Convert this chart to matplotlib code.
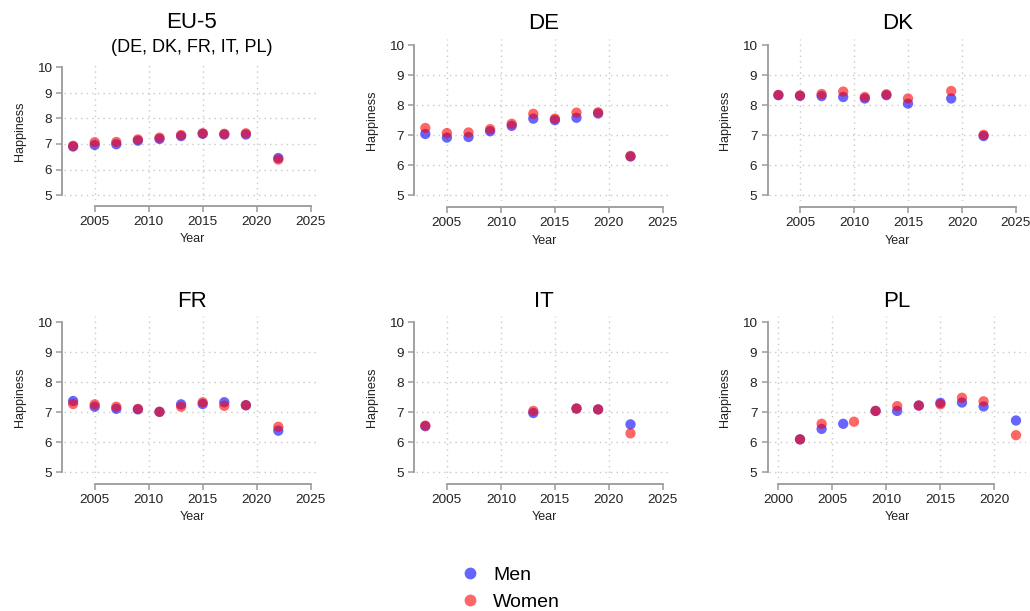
import matplotlib as mpl
mpl.use('Agg')
import matplotlib.pyplot as plt
from matplotlib.lines import Line2D

plt.rcParams['font.family'] = ['Liberation Sans', 'DejaVu Sans']

# mean happiness by survey year, men / women
eu5_years = [2003, 2005, 2007, 2009, 2011, 2013, 2015, 2017, 2019, 2022]
eu5_men = [6.90, 6.96, 6.99, 7.13, 7.20, 7.31, 7.40, 7.37, 7.37, 6.45]
eu5_women = [6.93, 7.07, 7.08, 7.18, 7.25, 7.35, 7.42, 7.40, 7.42, 6.39]

de_years = [2003, 2005, 2007, 2009, 2011, 2013, 2015, 2017, 2019, 2022]
de_men = [7.04, 6.92, 6.94, 7.13, 7.31, 7.55, 7.50, 7.58, 7.72, 6.29]
de_women = [7.24, 7.07, 7.09, 7.20, 7.38, 7.71, 7.55, 7.75, 7.76, 6.31]

dk_years = [2003, 2005, 2007, 2009, 2011, 2013, 2015, 2019, 2022]
dk_men = [8.33, 8.31, 8.30, 8.27, 8.22, 8.33, 8.05, 8.22, 6.97]
dk_women = [8.34, 8.32, 8.37, 8.45, 8.27, 8.36, 8.22, 8.47, 7.01]

fr_years = [2003, 2005, 2007, 2009, 2011, 2013, 2015, 2017, 2019, 2022]
fr_men = [7.37, 7.18, 7.11, 7.09, 7.01, 7.26, 7.27, 7.33, 7.23, 6.38]
fr_women = [7.27, 7.26, 7.18, 7.11, 7.01, 7.18, 7.33, 7.21, 7.23, 6.51]

it_years = [2003, 2013, 2017, 2019, 2022]
it_men = [6.53, 6.97, 7.12, 7.09, 6.59]
it_women = [6.55, 7.04, 7.12, 7.09, 6.29]

pl_years_men = [2002, 2004, 2006, 2009, 2011, 2013, 2015, 2017, 2019, 2022]
pl_men = [6.09, 6.44, 6.61, 7.04, 7.04, 7.22, 7.31, 7.32, 7.19, 6.72]
pl_years_women = [2002, 2004, 2007, 2009, 2011, 2013, 2015, 2017, 2019, 2022]
pl_women = [6.09, 6.61, 6.68, 7.04, 7.20, 7.22, 7.26, 7.48, 7.36, 6.23]

y_ticks = [5, 6, 7, 8, 9, 10]
x_ticks = [2005, 2010, 2015, 2020, 2025]
x_ticks_pl = [2000, 2005, 2010, 2015, 2020]

blue = (0, 0, 1, 0.6)
red = (1, 0, 0, 0.6)
axcol = '#9a9a9a'
gridcol = '#c8c8c8'

W, H = 1030, 611
fig = plt.figure(figsize=(W / 100, H / 100), dpi=100)

def px_axes(left, top, right, bottom):
  return fig.add_axes([left / W, 1 - bottom / H, (right - left) / W, (bottom - top) / H])

def panel(box, xs_m, ym, xs_w, yw, xlim, xt, title, sub=None):
  ax = px_axes(*box)
  ax.set_xlim(*xlim)
  ax.set_ylim(4.8, 10.2)
  for s in ['top', 'right']:
    ax.spines[s].set_visible(False)
  ax.spines['left'].set_position(('outward', 1))
  ax.spines['bottom'].set_position(('outward', 4))
  ax.spines['left'].set_bounds(y_ticks[0], y_ticks[-1])
  ax.spines['bottom'].set_bounds(xt[0], xt[-1])
  for s in ['left', 'bottom']:
    ax.spines[s].set_color(axcol)
    ax.spines[s].set_linewidth(1.3)
  ax.set_xticks(xt)
  ax.set_yticks(y_ticks)
  ax.tick_params(length=4.3, width=1.1, color=axcol, labelsize=9.7, labelcolor='#222222', pad=3)
  # dotted grid, skipping the top y tick and the 2025 tick
  for y in y_ticks[:-1]:
    ax.axhline(y, color=gridcol, lw=1, ls=(0, (1, 3)), zorder=0)
  for x in xt:
    if x < 2025:
      ax.axvline(x, color=gridcol, lw=1, ls=(0, (1, 3)), zorder=0)
  ax.scatter(xs_m, ym, s=55, color=blue, edgecolors='none', zorder=3)
  ax.scatter(xs_w, yw, s=55, color=red, edgecolors='none', zorder=4)
  ax.set_xlabel('Year', fontsize=9, color='#222222', labelpad=4)
  ax.set_ylabel('Happiness', fontsize=9, color='#222222', labelpad=8)
  if sub is None:
    ax.annotate(title, (0.5, 1), xycoords='axes fraction', xytext=(0, 7),
                textcoords='offset points', ha='center', va='baseline', fontsize=16)
  else:
    ax.annotate(title, (0.5, 1), xycoords='axes fraction', xytext=(0, 24.5),
                textcoords='offset points', ha='center', va='baseline', fontsize=16)
    ax.annotate(sub, (0.5, 1), xycoords='axes fraction', xytext=(0, 7.5),
                textcoords='offset points', ha='center', va='baseline', fontsize=13)
  return ax

xl = (2002.12, 2025.88)
xl_pl = (1999.12, 2022.88)

panel((63.6, 62.4, 320.2, 200.1), eu5_years, eu5_men, eu5_years, eu5_women, xl, x_ticks,
      'EU-5', '(DE, DK, FR, IT, PL)')
panel((415.8, 39, 672.4, 201.3), de_years, de_men, de_years, de_women, xl, x_ticks, 'DE')
panel((768.9, 39, 1025.5, 201.3), dk_years, dk_men, dk_years, dk_women, xl, x_ticks, 'DK')
panel((63.6, 316.3, 320.2, 478), fr_years, fr_men, fr_years, fr_women, xl, x_ticks, 'FR')
panel((415.8, 316.3, 672.4, 478), it_years, it_men, it_years, it_women, xl, x_ticks, 'IT')
panel((768.9, 316.3, 1025.5, 478), pl_years_men, pl_men, pl_years_women, pl_women, xl_pl,
      x_ticks_pl, 'PL')

handles = [Line2D([], [], ls='none', marker='o', ms=8.5, mfc=blue, mec='none'),
           Line2D([], [], ls='none', marker='o', ms=8.5, mfc=red, mec='none')]
fig.legend(handles, ['Men', 'Women'], loc='upper left', bbox_to_anchor=(460 / W, 1 - 566.5 / H),
           frameon=False, fontsize=14, handlelength=1, handletextpad=0.7, labelspacing=0.47,
           borderaxespad=0, borderpad=0)

plt.savefig('out.png', dpi=100)
